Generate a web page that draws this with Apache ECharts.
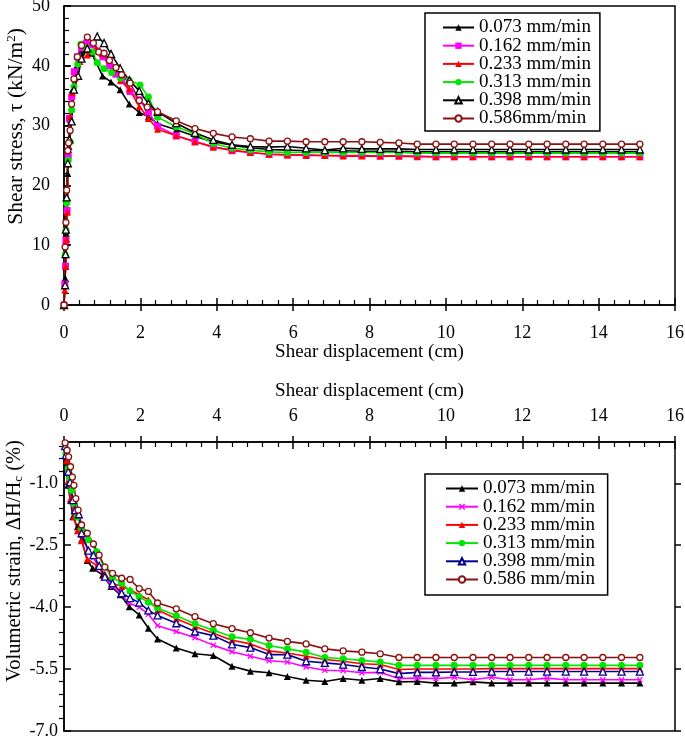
<!DOCTYPE html>
<html>
<head>
<meta charset="utf-8">
<script src="https://cdn.jsdelivr.net/npm/echarts@6/dist/echarts.min.js"></script>
<style>html,body{margin:0;padding:0;background:#fff}#c{width:685px;height:740px}</style>
</head>
<body>
<div id="c"></div>
<script>
// ---------- data ----------
var seriesNamesTop = ['0.073 mm/min','0.162 mm/min','0.233 mm/min','0.313 mm/min','0.398 mm/min','0.586mm/min'];
var seriesNamesBottom = ['0.073 mm/min ','0.162 mm/min ','0.233 mm/min ','0.313 mm/min ','0.398 mm/min ','0.586 mm/min '];
var xTicks = [0,2,4,6,8,10,12,14,16];
var stressTicks = [0,10,20,30,40,50];
var strainTickLabels = [-7.0,-5.5,-4.0,-2.5,-1.0];
var strainMinorTicks = [-6.7,-6.4,-6.1,-5.8,-5.2,-4.9,-4.6,-4.3,-3.7,-3.4,-3.1,-2.8,-2.2,-1.9,-1.6,-1.3,-0.7,-0.4,-0.1];

// shared displacement points (cm) of the steady part of every test
var xTail = [2.45,2.94,3.43,3.91,4.40,4.88,5.37,5.85,6.34,6.83,7.31,7.80,8.28,8.77,9.25,9.74,10.22,10.71,11.20,11.68,12.17,12.65,13.14,13.62,14.11,14.60,15.08];

// shear stress: [displacement, stress] for the early part, then stress values on xTail
var stress073Head = [[0,0],[0.03,4.5],[0.06,12],[0.08,18],[0.10,22],[0.13,26.5],[0.17,31],[0.22,36],[0.30,39.5],[0.45,42.3],[0.72,42.1],[1.01,38.3],[1.23,37.3],[1.47,36.0],[1.71,33.6],[1.97,32.2],[2.21,31.5]];
var stress073Tail = [30.3,29.3,28.2,27.3,26.7,26.3,26.0,25.9,25.8,25.8,25.8,25.7,25.7,25.7,25.6,25.6,25.6,25.6,25.6,25.6,25.6,25.6,25.6,25.6,25.6,25.6,25.6];
var stress162Head = [[0,0],[0.02,3.5],[0.04,6.5],[0.05,10.8],[0.08,15.8],[0.11,25],[0.14,31.2],[0.20,34.8],[0.27,39],[0.35,41.5],[0.46,43],[0.58,43.8],[0.72,43.5],[0.87,42.5],[1.02,41.5],[1.19,40],[1.36,38.6],[1.51,37.5],[1.73,35.7],[1.97,34.3],[2.21,32.3]];
var stress162Tail = [29.9,28.3,27.3,26.5,25.8,25.5,25.2,25.1,25.1,25.0,25.0,25.0,24.9,24.9,24.9,24.8,24.8,24.8,24.8,24.8,24.8,24.8,24.8,24.8,24.8,24.8,24.8];
var stress233Head = [[0,0],[0.02,2.5],[0.04,6.5],[0.07,11],[0.09,15.5],[0.12,26],[0.16,31.5],[0.22,35.5],[0.30,38],[0.42,40.7],[0.61,41.8],[0.85,42.9],[1.00,42.0],[1.27,39.0],[1.48,37.6],[1.71,36.1],[1.97,33.2],[2.21,31.2]];
var stress233Tail = [29.4,28.3,27.3,26.4,25.9,25.5,25.2,25.1,25.0,25.0,24.9,24.9,24.9,24.9,24.8,24.8,24.8,24.8,24.8,24.8,24.8,24.8,24.8,24.8,24.8,24.8,24.8];
var stress313Head = [[0,0],[0.03,8.4],[0.05,12.5],[0.07,17],[0.11,24.2],[0.16,27.3],[0.20,32.6],[0.26,36.5],[0.36,40.3],[0.44,43.6],[0.58,43.0],[0.75,42.3],[0.87,40.5],[1.05,39.5],[1.25,38.9],[1.48,37.9],[1.71,37.6],[1.99,36.8],[2.21,34.8]];
var stress313Tail = [31.4,29.8,28.6,27.0,26.2,25.9,25.6,25.5,25.5,25.5,25.5,25.5,25.5,25.5,25.4,25.4,25.4,25.4,25.4,25.4,25.4,25.4,25.4,25.4,25.4,25.4,25.4];
var stress398Head = [[0,0],[0.03,3.3],[0.04,8.5],[0.05,12.6],[0.07,18],[0.10,23.7],[0.14,27.7],[0.20,30.7],[0.26,36],[0.37,38.3],[0.46,41.2],[0.61,42.9],[0.87,44.9],[1.05,43.8],[1.23,42],[1.47,39.6],[1.71,37.6],[1.97,35.8],[2.21,33.7]];
var stress398Tail = [32.3,30.4,28.8,27.6,26.8,26.5,26.4,26.5,26.2,25.9,26.2,26.1,26.1,26.1,26.0,26.0,26.0,26.0,26.0,26.0,26.0,26.0,26.0,26.0,26.0,26.0,26.0];
var stress586Head = [[0,0],[0.03,9.7],[0.05,13.8],[0.07,19.2],[0.10,25.8],[0.12,27.1],[0.16,29.2],[0.20,33.6],[0.26,37.8],[0.35,41.5],[0.46,43.4],[0.61,44.8],[0.77,43.8],[0.91,42.3],[1.05,42.1],[1.19,40.9],[1.36,39.7],[1.51,38.5],[1.73,37.1],[1.97,34.2],[2.18,33.1]];
var stress586Tail = [32.3,30.8,29.5,28.7,28.1,27.8,27.4,27.4,27.3,27.3,27.3,27.3,27.2,27.1,26.9,26.9,26.9,26.9,26.9,26.9,26.9,26.9,26.9,26.9,26.9,26.9,26.9];

// volumetric strain (%)
var strain073Head = [[0.03,-0.05],[0.06,-0.6],[0.10,-1.05],[0.17,-1.41],[0.23,-1.81],[0.35,-2.05],[0.46,-2.37],[0.61,-2.87],[0.75,-3.06],[1.01,-3.22],[1.23,-3.50],[1.47,-3.70],[1.71,-3.99],[1.97,-4.19],[2.21,-4.51]];
var strain073Tail = [-4.77,-4.99,-5.13,-5.17,-5.43,-5.55,-5.59,-5.68,-5.77,-5.80,-5.73,-5.77,-5.73,-5.81,-5.80,-5.84,-5.84,-5.81,-5.84,-5.84,-5.84,-5.84,-5.84,-5.84,-5.84,-5.84,-5.84];
var strain162Head = [[0.03,-0.1],[0.05,-0.35],[0.10,-0.75],[0.16,-1.05],[0.23,-1.45],[0.29,-1.7],[0.39,-1.8],[0.46,-2.25],[0.64,-2.65],[0.77,-2.8],[0.92,-3.05],[1.07,-3.3],[1.27,-3.5],[1.51,-3.70],[1.71,-3.90],[1.97,-4.0],[2.21,-4.17]];
var strain162Tail = [-4.45,-4.59,-4.74,-4.92,-5.08,-5.19,-5.30,-5.33,-5.45,-5.53,-5.54,-5.59,-5.58,-5.73,-5.72,-5.73,-5.70,-5.76,-5.70,-5.76,-5.76,-5.72,-5.76,-5.76,-5.76,-5.76,-5.76];
var strain233Head = [[0.03,-0.1],[0.07,-0.44],[0.11,-0.93],[0.17,-1.37],[0.26,-1.81],[0.35,-2.15],[0.46,-2.39],[0.61,-2.84],[0.87,-3.00],[1.07,-3.2],[1.27,-3.42],[1.51,-3.50],[1.73,-3.58],[1.97,-3.70],[2.21,-3.82]];
var strain233Tail = [-4.07,-4.28,-4.47,-4.63,-4.80,-4.89,-5.06,-5.11,-5.19,-5.27,-5.31,-5.37,-5.39,-5.51,-5.50,-5.50,-5.50,-5.50,-5.49,-5.49,-5.49,-5.49,-5.49,-5.49,-5.49,-5.49,-5.49];
var strain313Head = [[0.03,-0.05],[0.05,-0.28],[0.11,-0.64],[0.15,-0.88],[0.20,-1.17],[0.26,-1.49],[0.35,-1.81],[0.46,-2.09],[0.64,-2.37],[0.86,-2.66],[1.05,-3.02],[1.27,-3.28],[1.51,-3.42],[1.73,-3.61],[1.97,-3.75],[2.21,-3.88]];
var strain313Tail = [-4.02,-4.21,-4.40,-4.56,-4.72,-4.78,-4.93,-5.01,-5.09,-5.22,-5.25,-5.29,-5.33,-5.41,-5.41,-5.41,-5.41,-5.41,-5.41,-5.41,-5.41,-5.41,-5.41,-5.41,-5.41,-5.41,-5.41];
var strain398Head = [[0.03,-0.1],[0.05,-0.32],[0.11,-0.72],[0.16,-0.97],[0.23,-1.41],[0.29,-1.65],[0.39,-1.75],[0.46,-2.21],[0.64,-2.63],[0.77,-2.74],[0.92,-3.00],[1.07,-3.26],[1.27,-3.42],[1.51,-3.66],[1.73,-3.78],[1.97,-3.89],[2.21,-4.08]];
var strain398Tail = [-4.20,-4.39,-4.59,-4.69,-4.90,-4.98,-5.15,-5.15,-5.31,-5.35,-5.39,-5.45,-5.50,-5.61,-5.58,-5.58,-5.57,-5.57,-5.56,-5.56,-5.56,-5.56,-5.56,-5.56,-5.56,-5.56,-5.56];
var strain586Head = [[0.03,-0.02],[0.08,-0.2],[0.12,-0.36],[0.17,-0.6],[0.22,-0.85],[0.26,-1.05],[0.31,-1.37],[0.37,-1.65],[0.46,-2.01],[0.61,-2.21],[0.77,-2.47],[0.92,-2.74],[1.07,-3.03],[1.27,-3.18],[1.51,-3.30],[1.73,-3.33],[1.97,-3.55],[2.21,-3.62]];
var strain586Tail = [-3.90,-4.04,-4.23,-4.40,-4.52,-4.62,-4.75,-4.83,-4.89,-5.01,-5.06,-5.09,-5.13,-5.22,-5.22,-5.22,-5.22,-5.22,-5.22,-5.22,-5.22,-5.22,-5.22,-5.22,-5.22,-5.22,-5.22];

// ---------- build ----------
function joinData(head, tail) {
  var out = head.slice();
  for (var i = 0; i < xTail.length; i++) out.push([xTail[i], tail[i]]);
  return out;
}
var SERIF = 'Liberation Serif';
var CROSS = 'path://M0,1.5L1.5,0L5,3.5L8.5,0L10,1.5L6.5,5L10,8.5L8.5,10L5,6.5L1.5,10L0,8.5L3.5,5Z';

var topStyles = [
  {color:'#000000', symbol:'triangle', fill:'#000000', size:7},
  {color:'#ff00ff', symbol:'rect', fill:'#ff00ff', size:7},
  {color:'#ff0000', symbol:'triangle', fill:'#ff0000', size:7},
  {color:'#00e600', symbol:'circle', fill:'#00e600', size:7},
  {color:'#000000', symbol:'triangle', fill:'#ffffff', size:7},
  {color:'#8b1111', symbol:'circle', fill:'#ffffff', size:6}
];
var bottomStyles = [
  {color:'#000000', symbol:'triangle', fill:'#000000', size:7},
  {color:'#ff00ff', symbol:CROSS, fill:'#ff00ff', size:6},
  {color:'#ff0000', symbol:'triangle', fill:'#ff0000', size:7},
  {color:'#00e600', symbol:'circle', fill:'#00e600', size:7},
  {color:'#00008b', symbol:'triangle', fill:'#ffffff', size:7},
  {color:'#8b1111', symbol:'circle', fill:'#ffffff', size:6}
];
var topData = [joinData(stress073Head, stress073Tail), joinData(stress162Head, stress162Tail), joinData(stress233Head, stress233Tail),
               joinData(stress313Head, stress313Tail), joinData(stress398Head, stress398Tail), joinData(stress586Head, stress586Tail)];
var bottomData = [joinData(strain073Head, strain073Tail), joinData(strain162Head, strain162Tail), joinData(strain233Head, strain233Tail),
                  joinData(strain313Head, strain313Tail), joinData(strain398Head, strain398Tail), joinData(strain586Head, strain586Tail)];

function mkSeries(name, data, st, xi, yi) {
  var hollow = st.fill === '#ffffff';
  return {
    name: name, type: 'line', data: data, xAxisIndex: xi, yAxisIndex: yi,
    symbol: st.symbol, symbolSize: st.size, showSymbol: true, animation: false,
    lineStyle: {color: st.color, width: 1.6},
    itemStyle: {color: st.fill, borderColor: st.color, borderWidth: hollow ? 1.3 : 0}
  };
}
var series = [];
for (var i = 0; i < 6; i++) series.push(mkSeries(seriesNamesTop[i], topData[i], topStyles[i], 0, 0));
for (var j = 0; j < 6; j++) series.push(mkSeries(seriesNamesBottom[j], bottomData[j], bottomStyles[j], 2, 2));

var axisLineStyle = {color:'#000', width:1.5};
var labelStyle = {fontFamily: SERIF, fontSize: 18, color:'#000'};
var nameStyle = {fontFamily: SERIF, fontSize: 19, color:'#000'};

var option = {
  backgroundColor: '#fff',
  animation: false,
  grid: [
    {left: 64, right: 10, top: 6, height: 299, show: true, borderColor:'#000', borderWidth:1.5, outerBoundsMode:'none', containLabel:false},
    {left: 64, right: 10, top: 442, height: 289, show: true, borderColor:'#000', borderWidth:1.5, outerBoundsMode:'none', containLabel:false}
  ],
  legend: [
    {data: seriesNamesTop, left: 425, top: 13, orient: 'vertical', padding: [5,9,3,17], itemGap: -0.8,
     itemWidth: 31, itemHeight: 8, borderColor:'#000', borderWidth: 1.5, backgroundColor:'#fff',
     textStyle: {fontFamily: SERIF, fontSize: 19, color:'#000'}, selectedMode: false},
    {data: seriesNamesBottom, left: 425, top: 474, orient: 'vertical', padding: [5,8,6,20], itemGap: -0.8,
     itemWidth: 32, itemHeight: 8, borderColor:'#000', borderWidth: 1.5, backgroundColor:'#fff',
     textStyle: {fontFamily: SERIF, fontSize: 19, color:'#000'}, selectedMode: false}
  ],
  xAxis: [
    {type:'value', gridIndex:0, min: xTicks[0], max: xTicks[xTicks.length-1], interval: 2, position:'bottom',
     name:'Shear displacement (cm)', nameLocation:'middle', nameGap: 36, nameTextStyle: nameStyle,
     axisLine:{show:true, lineStyle: axisLineStyle}, axisTick:{inside:true, length:7, lineStyle:axisLineStyle},
     minorTick:{show:true, splitNumber:5, length:5, lineStyle:{color:'#000', width:1.2}},
     axisLabel: Object.assign({margin: 19}, labelStyle), splitLine:{show:false}},
    {type:'value', gridIndex:0, min: 0, max: 16, interval: 2, position:'bottom',
     axisLine:{show:false}, axisTick:{inside:false, length:6, lineStyle:axisLineStyle}, axisLabel:{show:false}, splitLine:{show:false}},
    {type:'value', gridIndex:1, min: xTicks[0], max: xTicks[xTicks.length-1], interval: 2, position:'top',
     name:'Shear displacement (cm)', nameLocation:'middle', nameGap: 41, nameTextStyle: nameStyle,
     axisLine:{show:true, lineStyle: axisLineStyle}, axisTick:{inside:true, length:7, lineStyle:axisLineStyle},
     minorTick:{show:true, splitNumber:5, length:5, lineStyle:{color:'#000', width:1.2}},
     axisLabel: Object.assign({margin: 17}, labelStyle), splitLine:{show:false}},
    {type:'value', gridIndex:1, min: 0, max: 16, interval: 2, position:'top',
     axisLine:{show:false}, axisTick:{inside:false, length:6, lineStyle:axisLineStyle}, axisLabel:{show:false}, splitLine:{show:false}}
  ],
  yAxis: [
    {type:'value', gridIndex:0, min: stressTicks[0], max: stressTicks[stressTicks.length-1], interval: 10,
     name:'Shear stress, τ (kN/m{sup|2})', nameLocation:'middle', nameGap: 37, nameMoveOverlap: false,
     nameTextStyle: {fontFamily: SERIF, fontSize: 21.5, color:'#000', padding:[0,0,0,58], rich:{sup:{fontFamily:SERIF, fontSize:13, color:'#000', verticalAlign:'top'}}},
     axisLine:{show:true, lineStyle: axisLineStyle}, axisTick:{inside:true, length:7, lineStyle:axisLineStyle},
     minorTick:{show:true, splitNumber:5, length:5, lineStyle:{color:'#000', width:1.2}},
     axisLabel: Object.assign({margin: 14}, labelStyle), splitLine:{show:false}},
    {type:'value', gridIndex:0, min: 0, max: 50, interval: 10,
     axisLine:{show:false}, axisTick:{inside:false, length:6, lineStyle:axisLineStyle}, axisLabel:{show:false}, splitLine:{show:false}},
    {type:'value', gridIndex:1, min: -7, max: 0,
     name:'Volumetric strain, ΔH/H{sub|c} (%)', nameLocation:'middle', nameGap: 39, nameMoveOverlap: false,
     nameTextStyle: {fontFamily: SERIF, fontSize: 20.5, color:'#000', padding:[0,0,0,51], rich:{sub:{fontFamily:SERIF, fontSize:13, color:'#000', verticalAlign:'bottom'}}},
     axisLine:{show:true, lineStyle: axisLineStyle},
     axisTick:{inside:true, length:7, lineStyle:axisLineStyle, customValues: strainTickLabels},
     axisLabel: Object.assign({margin: 6, customValues: strainTickLabels, formatter: function(v){return v.toFixed(1);}}, labelStyle),
     splitLine:{show:false}},
    {type:'value', gridIndex:1, min: -7, max: 0,
     axisLine:{show:false}, axisTick:{inside:true, length:5, lineStyle:{color:'#000', width:1.2}, customValues: strainMinorTicks},
     axisLabel:{show:false}, splitLine:{show:false}},
    {type:'value', gridIndex:1, min: -7, max: 0,
     axisLine:{show:false}, axisTick:{inside:false, length:6, lineStyle:axisLineStyle, customValues: strainTickLabels},
     axisLabel:{show:false}, splitLine:{show:false}}
  ],
  series: series
};
var chart = echarts.init(document.getElementById('c'), null, {renderer:'canvas'});
chart.setOption(option);
</script>
</body>
</html>
